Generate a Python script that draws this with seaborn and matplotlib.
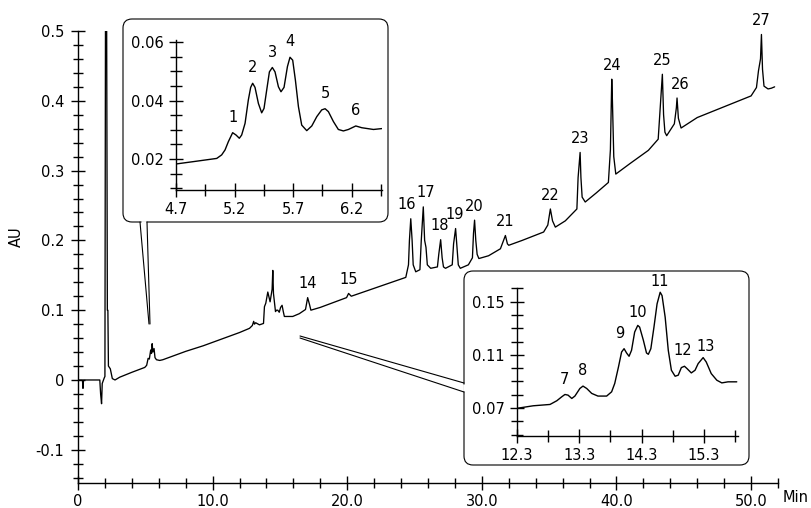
import matplotlib
matplotlib.use("Agg")
import matplotlib.pyplot as plt
from matplotlib.patches import FancyBboxPatch
from matplotlib.ticker import FixedLocator, MultipleLocator
import seaborn as sns

# ---------------- data ----------------
main_time = [0.0, 0.33, 0.37, 0.41, 1.62, 1.68, 1.75, 1.80, 1.95, 2.0, 2.04, 2.13, 2.18, 2.22,
             2.26, 2.40, 2.55, 2.75, 3.1, 4.0, 4.96, 5.1, 5.21, 5.3, 5.4, 5.46, 5.51, 5.56, 5.65,
             5.72, 5.83, 6.07, 6.3, 7.0, 8.0, 9.3, 11.0, 12.0, 12.74, 12.95, 13.05, 13.11, 13.2,
             13.48, 13.78, 13.85, 13.95, 14.1, 14.2, 14.27, 14.42, 14.47, 14.52, 14.67, 14.75,
             14.84, 14.95, 15.05, 15.16, 15.25, 15.33, 15.95, 16.44, 16.9, 17.06, 17.2, 17.3,
             18.0, 19.4, 19.95, 20.1, 20.3, 21.5, 23.0, 24.35, 24.55, 24.62, 24.72, 24.82, 24.9,
             25.09, 25.4, 25.5, 25.65, 25.75, 25.85, 25.95, 26.2, 26.7, 26.8, 26.94, 27.05, 27.15,
             27.3, 27.8, 27.9, 28.05, 28.15, 28.25, 28.4, 29.0, 29.3, 29.38, 29.46, 29.55, 29.65,
             29.78, 30.5, 31.38, 31.75, 31.9, 32.0, 33.0, 34.59, 34.9, 35.09, 35.25, 35.46, 36.2,
             37.06, 37.15, 37.3, 37.36, 37.45, 37.68, 38.5, 39.4, 39.55, 39.65, 39.7, 39.8, 39.95,
             41.0, 42.37, 43.1, 43.25, 43.41, 43.5, 43.6, 43.73, 44.3, 44.45, 44.5, 44.6, 44.8,
             46.0, 47.8, 50.0, 50.4, 50.55, 50.7, 50.77, 50.85, 50.96, 51.26, 51.5, 51.75]
main_au = [0.0, 0.0, -0.012, 0.0, 0.0, -0.02, -0.034, -0.005, 0.003, 0.005, 0.5, 0.5, 0.10, 0.10,
           0.02, 0.016, 0.002, 0.0, 0.004, 0.011, 0.018, 0.021, 0.031, 0.03, 0.043, 0.038, 0.052,
           0.04, 0.045, 0.032, 0.029, 0.028, 0.029, 0.034, 0.041, 0.049, 0.061, 0.068, 0.074,
           0.078, 0.084, 0.08, 0.082, 0.079, 0.081, 0.105, 0.11, 0.126, 0.118, 0.112, 0.13, 0.157,
           0.124, 0.098, 0.1, 0.1, 0.097, 0.104, 0.107, 0.098, 0.091, 0.091, 0.095, 0.101, 0.118,
           0.108, 0.1, 0.104, 0.114, 0.118, 0.124, 0.12, 0.128, 0.138, 0.147, 0.165, 0.2, 0.231,
           0.2, 0.165, 0.155, 0.158, 0.2, 0.248, 0.2, 0.19, 0.165, 0.16, 0.162, 0.18, 0.201, 0.175,
           0.162, 0.16, 0.165, 0.195, 0.217, 0.19, 0.165, 0.16, 0.165, 0.175, 0.21, 0.229, 0.2,
           0.18, 0.174, 0.178, 0.188, 0.207, 0.195, 0.193, 0.2, 0.212, 0.222, 0.245, 0.228, 0.219,
           0.228, 0.245, 0.29, 0.326, 0.29, 0.262, 0.255, 0.268, 0.283, 0.33, 0.431, 0.4, 0.32,
           0.295, 0.31, 0.329, 0.345, 0.39, 0.438, 0.38, 0.355, 0.35, 0.367, 0.39, 0.404, 0.375,
           0.361, 0.376, 0.39, 0.407, 0.419, 0.443, 0.46, 0.495, 0.445, 0.421, 0.417, 0.418, 0.42]

inset1_time = [4.70, 4.848, 5.048, 5.09, 5.119, 5.147, 5.184, 5.213, 5.241, 5.261, 5.29, 5.318,
               5.338, 5.355, 5.375, 5.404, 5.432, 5.452, 5.475, 5.498, 5.523, 5.546, 5.575, 5.597,
               5.623, 5.652, 5.674, 5.697, 5.72, 5.746, 5.774, 5.817, 5.86, 5.903, 5.945, 5.974,
               6.002, 6.045, 6.087, 6.13, 6.173, 6.236, 6.287, 6.387, 6.458]
inset1_au = [0.0183, 0.0191, 0.0202, 0.0214, 0.0231, 0.0259, 0.0290, 0.0282, 0.0271, 0.0282,
             0.0322, 0.0402, 0.0445, 0.0459, 0.0445, 0.0390, 0.0358, 0.0373, 0.0436, 0.0498,
             0.0513, 0.0498, 0.0447, 0.0430, 0.0445, 0.0516, 0.0548, 0.0538, 0.0470, 0.0379,
             0.0316, 0.0297, 0.0313, 0.0345, 0.0368, 0.0372, 0.0362, 0.0328, 0.0301, 0.0296,
             0.0301, 0.0313, 0.0307, 0.0301, 0.0304]

inset2_time = [12.30, 12.56, 12.83, 12.94, 13.02, 13.07, 13.12, 13.18, 13.23, 13.31, 13.36, 13.42,
               13.50, 13.60, 13.74, 13.82, 13.87, 13.93, 13.98, 14.02, 14.06, 14.10, 14.14, 14.19,
               14.24, 14.27, 14.33, 14.38, 14.41, 14.45, 14.50, 14.55, 14.60, 14.63, 14.68, 14.73,
               14.78, 14.84, 14.89, 14.94, 14.99, 15.03, 15.10, 15.16, 15.21, 15.29, 15.34, 15.42,
               15.51, 15.59, 15.69, 15.83]
inset2_au = [0.0698, 0.0717, 0.0727, 0.0755, 0.0785, 0.0802, 0.0797, 0.0772, 0.0790, 0.0847,
             0.0865, 0.0847, 0.0810, 0.0790, 0.0790, 0.0822, 0.0885, 0.1009, 0.1121, 0.1146,
             0.1114, 0.1089, 0.1134, 0.1271, 0.1321, 0.1308, 0.1209, 0.1114, 0.1104, 0.1146,
             0.1308, 0.1483, 0.1570, 0.1545, 0.1383, 0.1134, 0.0984, 0.0939, 0.0947, 0.1004,
             0.1014, 0.0997, 0.0964, 0.0984, 0.1034, 0.1079, 0.1046, 0.0959, 0.0909, 0.0889,
             0.0897, 0.0897]

main_peak_ids = ["14", "15", "16", "17", "18", "19", "20", "21", "22", "23", "24", "25", "26", "27"]
main_peak_t = [17.06, 20.1, 24.72, 25.65, 26.94, 28.05, 29.46, 31.75, 35.09, 37.3, 39.65, 43.41, 44.5, 50.77]
main_peak_au = [0.118, 0.124, 0.231, 0.248, 0.201, 0.217, 0.229, 0.207, 0.245, 0.326, 0.431, 0.438, 0.404, 0.495]

inset1_peak_ids = ["1", "2", "3", "4", "5", "6"]
inset1_peak_t = [5.184, 5.355, 5.523, 5.674, 5.974, 6.236]
inset1_peak_au = [0.0290, 0.0459, 0.0513, 0.0548, 0.0372, 0.0313]

inset2_peak_ids = ["7", "8", "9", "10", "11", "12", "13"]
inset2_peak_t = [13.07, 13.36, 14.02, 14.24, 14.60, 14.99, 15.29]
inset2_peak_au = [0.0802, 0.0865, 0.1146, 0.1321, 0.1570, 0.1014, 0.1079]

main_xticks = [0, 10, 20, 30, 40, 50]
main_xticklabels = ["0", "10.0", "20.0", "30.0", "40.0", "50.0"]
main_yticks = [-0.1, 0, 0.1, 0.2, 0.3, 0.4, 0.5]
main_yticklabels = ["-0.1", "0", "0.1", "0.2", "0.3", "0.4", "0.5"]
inset1_xticks = [4.7, 5.2, 5.7, 6.2]
inset1_xticklabels = ["4.7", "5.2", "5.7", "6.2"]
inset1_yticks = [0.02, 0.04, 0.06]
inset1_yticklabels = ["0.02", "0.04", "0.06"]
inset2_xticks = [12.3, 13.3, 14.3, 15.3]
inset2_xticklabels = ["12.3", "13.3", "14.3", "15.3"]
inset2_yticks = [0.07, 0.11, 0.15]
inset2_yticklabels = ["0.07", "0.11", "0.15"]

# ---------------- style ----------------
sns.set_theme(style="ticks")
plt.rcParams["font.family"] = ["DejaVu Sans"]
plt.rcParams["font.size"] = 10.5
plt.rcParams["text.color"] = "black"
plt.rcParams["axes.labelcolor"] = "black"
plt.rcParams["xtick.color"] = "black"
plt.rcParams["ytick.color"] = "black"
FS = 10.5

W, H = 812, 508
fig = plt.figure(figsize=(W / 100, H / 100), dpi=100)
fig.patch.set_facecolor("white")


def rect(x0, y_top, x1, y_bot):
    return [x0 / W, 1 - y_bot / H, (x1 - x0) / W, (y_bot - y_top) / H]


def style_axes(a, maj_len=10, min_len=7, xpad=4.5, ypad=4.5):
    for s in ("top", "right"):
        a.spines[s].set_visible(False)
    for s in ("left", "bottom"):
        a.spines[s].set_color("black")
        a.spines[s].set_linewidth(1.0)
    a.tick_params(which="both", direction="inout", color="black", width=1.0,
                  labelsize=FS, labelcolor="black")
    a.tick_params(which="major", length=maj_len)
    a.tick_params(axis="x", which="major", pad=xpad)
    a.tick_params(axis="y", which="major", pad=ypad)
    a.tick_params(which="minor", length=min_len)
    a.set_xlabel("")
    a.set_ylabel("")
    a.grid(False)


# ---------------- main axes ----------------
ax = fig.add_axes(rect(78, 31, 778, 483), zorder=1)
ax.set_facecolor("none")
sns.lineplot(x=main_time, y=main_au, ax=ax, color="black", linewidth=0.95,
             sort=False, estimator=None)
ax.set_xlim(0, 52)
ax.set_ylim(-0.1476, 0.5)
ax.set_xticks(main_xticks)
ax.set_xticklabels(main_xticklabels)
ax.set_yticks(main_yticks)
ax.set_yticklabels(main_yticklabels)
ax.xaxis.set_minor_locator(MultipleLocator(2))
ax.yaxis.set_minor_locator(MultipleLocator(0.02))
style_axes(ax, xpad=3, ypad=5)

main_dx = {"16": -3, "17": 1.5, "18": -1, "19": -1, "26": 2.5}
for lab, t, v in zip(main_peak_ids, main_peak_t, main_peak_au):
    ax.annotate(lab, (t, v), xytext=(main_dx.get(lab, 0), 10), textcoords="offset points",
                ha="center", va="center", fontsize=FS, color="black", annotation_clip=False)

fig.text(16 / W, 1 - 237 / H, "AU", rotation=90, ha="center", va="center", fontsize=FS,
         color="black")
fig.text(783 / W, 1 - 497 / H, "Min", ha="left", va="center", fontsize=FS, color="black")

# ---------------- overlay: boxes and callouts ----------------
ov = fig.add_axes([0, 0, 1, 1], zorder=2)
ov.set_xlim(0, W)
ov.set_ylim(0, H)
ov.axis("off")
ov.patch.set_alpha(0)

for (x0, y0, x1, y1) in [(123, 19, 388, 222), (464, 271, 749, 465)]:
    ov.add_patch(FancyBboxPatch((x0, H - y1), x1 - x0, y1 - y0,
                                boxstyle="round,pad=0,rounding_size=9",
                                fc="white", ec="black", lw=0.8))

# callout to inset 1
ov.plot([141, 146], [H - 222, H - 222], color="white", lw=2, solid_capstyle="butt")
ov.plot([140, 149], [H - 222, H - 324], color="black", lw=0.8)
ov.plot([147, 150], [H - 222, H - 324], color="black", lw=0.8)
# callout to inset 2
ov.plot([464, 464], [H - 384, H - 391], color="white", lw=2, solid_capstyle="butt")
ov.plot([300, 464], [H - 336, H - 383], color="black", lw=0.8)
ov.plot([300, 464], [H - 338, H - 392], color="black", lw=0.8)

# ---------------- inset 1 ----------------
a1 = fig.add_axes(rect(176, 40, 382, 190), zorder=3)
a1.set_facecolor("none")
sns.lineplot(x=inset1_time, y=inset1_au, ax=a1, color="black", linewidth=1.0,
             sort=False, estimator=None)
a1.set_xlim(4.7, 6.46)
a1.set_ylim(0.0094, 0.0607)
a1.set_xticks(inset1_xticks)
a1.set_xticklabels(inset1_xticklabels)
a1.set_yticks(inset1_yticks)
a1.set_yticklabels(inset1_yticklabels)
a1.xaxis.set_minor_locator(FixedLocator([4.95, 5.45, 5.95, 6.45]))
a1.yaxis.set_minor_locator(MultipleLocator(0.005))
style_axes(a1, maj_len=10, min_len=8, xpad=4, ypad=4)
for lab, t, v in zip(inset1_peak_ids, inset1_peak_t, inset1_peak_au):
    a1.annotate(lab, (t, v), xytext=(0, 11), textcoords="offset points",
                ha="center", va="center", fontsize=FS, color="black", annotation_clip=False)

# ---------------- inset 2 ----------------
a2 = fig.add_axes(rect(517, 288, 738, 436), zorder=3)
a2.set_facecolor("none")
sns.lineplot(x=inset2_time, y=inset2_au, ax=a2, color="black", linewidth=1.0,
             sort=False, estimator=None)
a2.set_xlim(12.3, 15.85)
a2.set_ylim(0.049, 0.1602)
a2.set_xticks(inset2_xticks)
a2.set_xticklabels(inset2_xticklabels)
a2.set_yticks(inset2_yticks)
a2.set_yticklabels(inset2_yticklabels)
a2.xaxis.set_minor_locator(FixedLocator([12.8, 13.8, 14.8, 15.8]))
a2.yaxis.set_minor_locator(MultipleLocator(0.01))
style_axes(a2, maj_len=10, min_len=8, xpad=4, ypad=4)
inset2_dx = {"9": -3, "12": -1.5, "13": 2}
inset2_dy = {"10": 9, "11": 8, "13": 8}
for lab, t, v in zip(inset2_peak_ids, inset2_peak_t, inset2_peak_au):
    a2.annotate(lab, (t, v), xytext=(inset2_dx.get(lab, 0), inset2_dy.get(lab, 11)),
                textcoords="offset points", ha="center", va="center", fontsize=FS,
                color="black", annotation_clip=False)

fig.savefig("out.png", dpi=100, facecolor="white")
